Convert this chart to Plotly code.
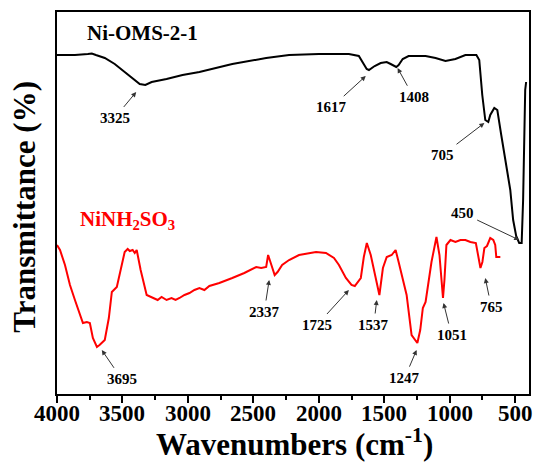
import plotly.graph_objects as go

# ---- data (y in arbitrary transmittance units) ----
ni_oms_wn = [4000, 3863, 3764, 3734, 3703, 3635, 3559, 3483, 3422, 3368, 3325, 3277,
             3163, 3041, 2912, 2661, 2402, 2227, 1999, 1770, 1694, 1664, 1634, 1617,
             1573, 1527, 1481, 1451, 1408, 1390, 1359, 1314, 1184, 1108, 1032, 956,
             880, 796, 774, 751, 728, 705, 690, 659, 636, 606, 568, 537, 515, 492,
             469, 450, 439, 431, 423, 416]
ni_oms_t = [339, 339, 340, 340.5, 339, 336, 330, 322, 315, 310, 309, 312,
            315, 319, 322, 330, 336, 339, 340, 340, 338, 332, 325, 324,
            328, 331, 332, 330, 327, 329, 335, 338, 338, 336, 333, 335,
            339, 339, 334, 299, 274, 272, 279, 286, 284, 259, 229, 204, 174, 158,
            151, 151, 194, 244, 304, 312]

ninh_wn = [4000, 3977, 3939, 3901, 3863, 3825, 3802, 3772, 3749, 3726, 3706, 3695,
           3675, 3635, 3604, 3581, 3543, 3521, 3483, 3460, 3444, 3422, 3406, 3391,
           3361, 3315, 3269, 3231, 3201, 3163, 3125, 3094, 3064, 3026, 2988, 2950,
           2912, 2874, 2836, 2760, 2661, 2569, 2478, 2440, 2402, 2387, 2362, 2337,
           2315, 2280, 2227, 2151, 2021, 1945, 1884, 1846, 1793, 1750, 1725, 1709,
           1679, 1656, 1633, 1603, 1565, 1537, 1510, 1481, 1443, 1413, 1390, 1359,
           1329, 1291, 1247, 1225, 1205, 1184, 1139, 1101, 1078, 1051, 1040, 1025,
           994, 956, 918, 880, 842, 800, 765, 750, 735, 715, 690, 667, 652, 644, 613]
ninh_t = [149, 144, 129, 109, 94, 79, 71, 72, 71, 56, 49, 47,
          49, 54, 76, 102, 107, 119, 142, 145, 143, 144, 141, 144,
          124, 99, 96, 94, 97, 94, 96, 94, 96, 99, 101, 104,
          106, 104, 108, 111, 116, 121, 127, 126, 127, 139, 129, 119,
          122, 129, 134, 139, 142, 141, 136, 129, 116, 109, 108, 111,
          116, 137, 151, 139, 114, 99, 126, 137, 139, 144, 132, 114,
          99, 59, 51, 64, 86, 92, 132, 157, 139, 96, 114, 149,
          154, 152, 154, 154, 152, 151, 126, 132, 146, 148, 156, 154, 149, 137, 137]

# peak labels: arrow head (wn, y) and label position (wn, y)
peak_labels = ["3325", "1617", "1408", "705", "450",
               "3695", "2337", "1725", "1537", "1247", "1051", "765"]
peak_head_wn = [3395, 1641, 1398, 735, 469, 3658, 2379, 1770, 1557, 1253, 1047, 728]
peak_head_t = [302, 318, 326, 271, 154, 44, 114, 104, 94, 44, 91, 116]
peak_text_wn = [3560, 1900, 1276, 1055, 903, 3506, 2417, 2014, 1580, 1344, 986, 682]
peak_text_t = [276, 287, 297, 239, 181, 15, 82, 69, 69, 16, 59, 87]

x_ticks = [4000, 3500, 3000, 2500, 2000, 1500, 1000, 500]
x_minor = [3750, 3250, 2750, 2250, 1750, 1250, 750]

FONT = "Liberation Serif, Times New Roman, serif"

fig = go.Figure()
fig.add_trace(go.Scatter(x=ni_oms_wn, y=ni_oms_t, mode="lines",
                         line=dict(color="black", width=2), showlegend=False))
fig.add_trace(go.Scatter(x=ninh_wn, y=ninh_t, mode="lines",
                         line=dict(color="#ff0000", width=2), showlegend=False))

annotations = []
for lab, hx, hy, tx, ty in zip(peak_labels, peak_head_wn, peak_head_t, peak_text_wn, peak_text_t):
    annotations.append(dict(x=hx, y=hy, ax=tx, ay=ty, xref="x", yref="y", axref="x", ayref="y",
                            text=lab, showarrow=True, arrowhead=2, arrowsize=1, arrowwidth=1,
                            arrowcolor="#333333", standoff=0, startstandoff=2,
                            font=dict(family=FONT, size=15, color="black", weight="bold")))

# tick labels placed on the x scale
for v in x_ticks:
    annotations.append(dict(x=v, y=-0.05, xref="x", yref="paper", text=str(v), showarrow=False,
                            xanchor="center", yanchor="middle",
                            font=dict(family=FONT, size=23, color="black", weight="bold")))

annotations.append(dict(x=3345, y=361, xref="x", yref="y", text="Ni-OMS-2-1", showarrow=False,
                        font=dict(family=FONT, size=21, color="black", weight="bold")))
annotations.append(dict(x=3460, y=174, xref="x", yref="y", text="NiNH<sub>2</sub>SO<sub>3</sub>",
                        showarrow=False,
                        font=dict(family=FONT, size=21, color="#ff0000", weight="bold")))
annotations.append(dict(x=0.504, y=-0.126, xref="paper", yref="paper", text="Wavenumbers (cm<sup>-1</sup>)",
                        showarrow=False, xanchor="center", yanchor="middle",
                        font=dict(family=FONT, size=31, color="black", weight="bold")))
annotations.append(dict(x=-0.068, y=0.49, xref="paper", yref="paper", text="Transmittance (%)",
                        showarrow=False, xanchor="center", yanchor="middle", textangle=-90,
                        font=dict(family=FONT, size=31, color="black", weight="bold")))

fig.update_layout(
    width=536, height=465,
    margin=dict(l=57, r=5, t=12, b=71),
    paper_bgcolor="white", plot_bgcolor="white",
    annotations=annotations,
    xaxis=dict(range=[4000, 394], tickmode="array", tickvals=x_ticks,
               showticklabels=False,
               ticks="outside", ticklen=7, tickwidth=2, tickcolor="black",
               minor=dict(tickmode="array", tickvals=x_minor, ticks="outside", ticklen=4,
                          tickwidth=2, tickcolor="black"),
               showline=True, linewidth=2, linecolor="black", mirror=True,
               showgrid=False, zeroline=False),
    yaxis=dict(range=[0, 382], showticklabels=False, ticks="",
               showline=True, linewidth=2, linecolor="black", mirror=True,
               showgrid=False, zeroline=False),
)

fig.write_html("out.html")
